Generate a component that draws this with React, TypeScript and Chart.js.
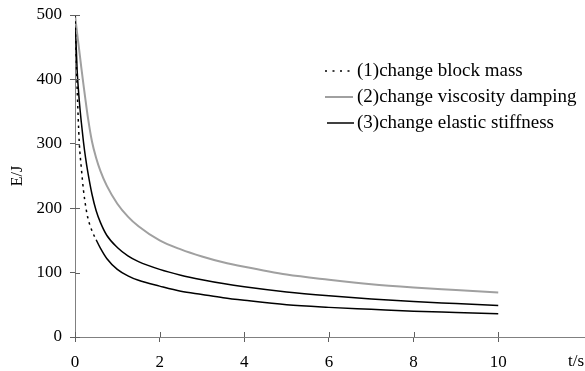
import React, { useEffect, useRef } from 'react';
import { Chart, registerables } from 'chart.js';

Chart.register(...registerables);

// ---- data ----
const timeS = [0, 0.05, 0.1, 0.15, 0.2, 0.25, 0.3, 0.4, 0.5, 0.6, 0.75, 1, 1.25, 1.5, 2, 2.5, 3, 3.5, 4, 5, 6, 7, 8, 9, 10];
const blockMass = [500, 388, 303, 262, 228, 204, 186, 165, 151, 138, 122, 105, 95, 88, 79, 71, 66, 61, 57, 50, 46, 43, 40, 38, 36];
const viscosityDamping = [500, 472, 445, 418, 392, 367, 343, 304, 278, 258, 235, 207, 187, 172, 150, 136, 125, 116, 109, 97, 89, 82, 77, 73, 69];
const elasticStiffness = [500, 415, 368, 333, 303, 278, 257, 222, 196, 178, 158, 139, 126, 117, 105, 96, 89, 83, 78, 70, 64, 59, 55, 52, 49];
const seriesLabels = ['(1)change block mass', '(2)change viscosity damping', '(3)change elastic stiffness'];
const xTickValues = [0, 2, 4, 6, 8, 10];
const yTickValues = [0, 100, 200, 300, 400, 500];
const xAxisTitle = 't/s';
const yAxisTitle = 'E/J';

const FONT = "'Liberation Serif', 'Times New Roman', serif";
const AXIS_COLOR = '#808080';
const TICK_COLOR = '#606060';

const toPoints = (ys: number[]) => timeS.map((t, i) => ({ x: t, y: ys[i] }));

const decorPlugin = {
  id: 'decor',
  afterDraw(chart: any) {
    const ctx = chart.ctx as CanvasRenderingContext2D;
    const xs = chart.scales.x;
    const ys = chart.scales.y;
    const area = chart.chartArea;
    ctx.save();
    // inner halves of the crossing tick marks
    ctx.strokeStyle = TICK_COLOR;
    ctx.lineWidth = 1;
    ctx.beginPath();
    xTickValues.forEach((v) => {
      const px = Math.round(xs.getPixelForValue(v)) + 0.5;
      ctx.moveTo(px, area.bottom);
      ctx.lineTo(px, area.bottom - 5);
    });
    yTickValues.forEach((v) => {
      const py = Math.round(ys.getPixelForValue(v)) + 0.5;
      ctx.moveTo(area.left, py);
      ctx.lineTo(area.left + 5, py);
    });
    ctx.stroke();

    // x axis title at the end of the axis, on the tick-label line
    ctx.fillStyle = '#000';
    ctx.font = `17px ${FONT}`;
    ctx.textAlign = 'right';
    ctx.textBaseline = 'middle';
    ctx.fillText(xAxisTitle, chart.width - 1, 362);

    // legend
    const opts = chart.options.plugins.decor;
    ctx.font = `19px ${FONT}`;
    ctx.textAlign = 'left';
    ctx.textBaseline = 'middle';
    chart.data.datasets.forEach((ds: any, i: number) => {
      const y = opts.top + i * opts.rowGap;
      const st = opts.samples[i];
      ctx.save();
      ctx.strokeStyle = ds.borderColor;
      ctx.lineWidth = ds.borderWidth;
      ctx.setLineDash(st.dash);
      ctx.beginPath();
      ctx.moveTo(st.x0, y);
      ctx.lineTo(st.x1, y);
      ctx.stroke();
      ctx.restore();
      ctx.fillStyle = '#000';
      ctx.fillText(ds.label, opts.textX, y);
    });
    ctx.restore();
  },
};

export default function App() {
  const ref = useRef<HTMLCanvasElement | null>(null);

  useEffect(() => {
    if (!ref.current) return;
    const chart = new Chart(ref.current, {
      type: 'line',
      data: {
        datasets: [
          {
            label: seriesLabels[0],
            data: toPoints(blockMass),
            borderColor: '#000000',
            borderWidth: 1.5,
            pointRadius: 0,
            cubicInterpolationMode: 'monotone',
            segment: {
              borderDash: (c: any) => (c.p0.parsed.x < 0.5 ? [2.5, 4] : []),
            },
          },
          {
            label: seriesLabels[1],
            data: toPoints(viscosityDamping),
            borderColor: '#a0a0a0',
            borderWidth: 2,
            pointRadius: 0,
            cubicInterpolationMode: 'monotone',
          },
          {
            label: seriesLabels[2],
            data: toPoints(elasticStiffness),
            borderColor: '#000000',
            borderWidth: 1.5,
            pointRadius: 0,
            cubicInterpolationMode: 'monotone',
          },
        ],
      },
      options: {
        responsive: false,
        animation: false,
        devicePixelRatio: 1,
        layout: { padding: { left: 0, right: 0, top: 15, bottom: 0 } },
        plugins: {
          legend: { display: false },
          tooltip: { enabled: false },
          decor: {
            top: 71,
            rowGap: 26,
            textX: 357,
            samples: [
              { x0: 325, x1: 355, dash: [2, 5.5] },
              { x0: 325, x1: 353, dash: [] },
              { x0: 327, x1: 354, dash: [] },
            ],
          },
        } as any,
        scales: {
          x: {
            type: 'linear',
            min: 0,
            max: 12.05,
            afterBuildTicks: (s: any) => {
              s.ticks = xTickValues.map((v) => ({ value: v }));
            },
            afterFit: (s: any) => {
              s.height = 34;
              s.paddingLeft = 0;
              s.paddingRight = 0;
            },
            grid: { drawOnChartArea: false, tickLength: 5, color: TICK_COLOR, lineWidth: 1 },
            border: { color: AXIS_COLOR, width: 1 },
            ticks: {
              font: { family: FONT, size: 17 },
              color: '#000',
              padding: 10,
              maxRotation: 0,
              autoSkip: false,
              callback: (v: any) => String(v),
            },
          },
          y: {
            type: 'linear',
            min: 0,
            max: 500,
            afterBuildTicks: (s: any) => {
              s.ticks = yTickValues.map((v) => ({ value: v }));
            },
            afterFit: (s: any) => {
              s.width = 75;
              s.paddingTop = 0;
              s.paddingBottom = 0;
            },
            grid: { drawOnChartArea: false, tickLength: 5, color: TICK_COLOR, lineWidth: 1 },
            border: { color: AXIS_COLOR, width: 1 },
            title: {
              display: true,
              text: yAxisTitle,
              font: { family: FONT, size: 16 },
              color: '#000',
              padding: { top: 8, bottom: 0 },
            },
            ticks: {
              font: { family: FONT, size: 17 },
              color: '#000',
              padding: 8,
              callback: (v: any) => String(v),
            },
          },
        },
      },
      plugins: [decorPlugin],
    } as any);
    return () => chart.destroy();
  }, []);

  return (
    <div style={{ position: 'fixed', left: 0, top: 0, width: 585, height: 371, background: '#fff' }}>
      <canvas ref={ref} width={585} height={371} style={{ display: 'block', width: 585, height: 371 }} />
    </div>
  );
}
